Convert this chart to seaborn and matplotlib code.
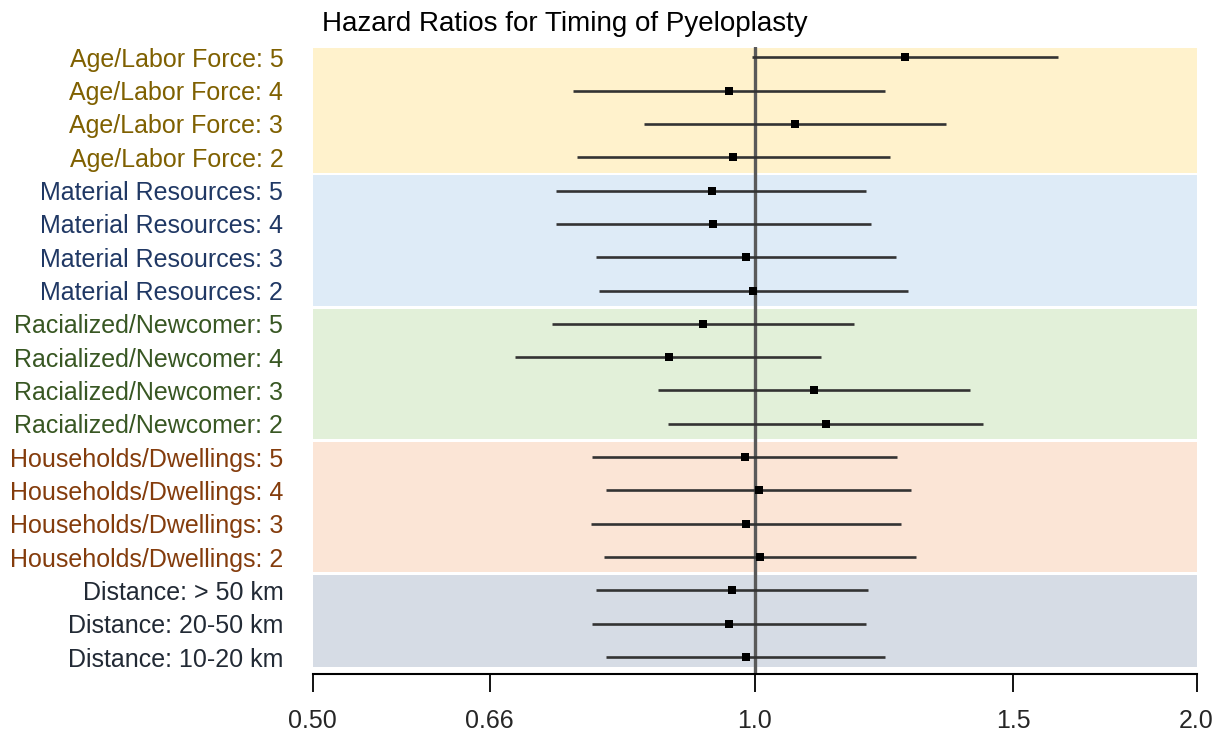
import numpy as np
import pandas as pd
import matplotlib
matplotlib.use('Agg')
import matplotlib.pyplot as plt
import seaborn as sns

# ── data ──
labels = ['Age/Labor Force: 5', 'Age/Labor Force: 4', 'Age/Labor Force: 3', 'Age/Labor Force: 2',
          'Material Resources: 5', 'Material Resources: 4', 'Material Resources: 3', 'Material Resources: 2',
          'Racialized/Newcomer: 5', 'Racialized/Newcomer: 4', 'Racialized/Newcomer: 3', 'Racialized/Newcomer: 2',
          'Households/Dwellings: 5', 'Households/Dwellings: 4', 'Households/Dwellings: 3', 'Households/Dwellings: 2',
          'Distance: > 50 km', 'Distance: 20-50 km', 'Distance: 10-20 km']
hr = [1.266, 0.961, 1.066, 0.967,
      0.935, 0.937, 0.987, 0.998,
      0.923, 0.874, 1.098, 1.118,
      0.985, 1.007, 0.987, 1.009,
      0.966, 0.961, 0.986]
ci_low = [0.996, 0.752, 0.841, 0.757,
          0.733, 0.732, 0.780, 0.784,
          0.728, 0.687, 0.860, 0.873,
          0.775, 0.792, 0.774, 0.790,
          0.780, 0.775, 0.792]
ci_high = [1.610, 1.228, 1.350, 1.237,
           1.192, 1.200, 1.249, 1.272,
           1.169, 1.110, 1.402, 1.431,
           1.251, 1.278, 1.259, 1.288,
           1.195, 1.192, 1.228]
groups = ['Age/Labor Force', 'Material Resources', 'Racialized/Newcomer',
          'Households/Dwellings', 'Distance']
group_sizes = [4, 4, 4, 4, 3]
band_colors = ['#FFF2CC', '#DEEBF7', '#E2F0D9', '#FBE5D6', '#D6DCE5']
text_colors = ['#7F6000', '#203864', '#385723', '#843C0C', '#222A35']
xticks = [0.50, 0.66, 1.0, 1.5, 2.0]
xtick_labels = ['0.50', '0.66', '1.0', '1.5', '2.0']

df = pd.DataFrame({'label': labels, 'hr': hr, 'lo': ci_low, 'hi': ci_high})
df['row'] = np.arange(len(df))

sns.set_theme(style='white')
plt.rcParams['font.family'] = ['Liberation Sans', 'DejaVu Sans']

fig = plt.figure(figsize=(12.2, 7.38), dpi=100)
ax = fig.add_axes([312.5 / 1220, 1 - 674 / 738, 884 / 1220, (674 - 46.7) / 738])

# coloured group bands
start = 0
for size, col in zip(group_sizes, band_colors):
    top = start - 0.5 if start > 0 else -0.32
    bot = start + size - 0.5 if start + size < len(df) else len(df) - 1 + 0.33
    ax.axhspan(top + 0.04, bot - 0.04, color=col, zorder=0, lw=0)
    start += size

ax.axvline(1.0, color='#5a5a5a', lw=2.4, zorder=1)
ax.hlines(df['row'], df['lo'], df['hi'], color='#333333', lw=1.9, zorder=2)
sns.scatterplot(data=df, x='hr', y='row', marker='s', color='black', s=34,
                linewidth=0, zorder=3, ax=ax)

ax.set_xscale('log')
ax.set_xlim(0.5, 2.0)
ax.set_ylim(len(df) - 1 + 0.51, -0.32)
ax.set_xticks(xticks)
ax.set_xticklabels(xtick_labels, fontsize=18)
ax.minorticks_off()
ax.set_yticks(df['row'])
ax.set_yticklabels(df['label'], fontsize=18)
colors_per_row = [c for c, n in zip(text_colors, group_sizes) for _ in range(n)]
for t, c in zip(ax.get_yticklabels(), colors_per_row):
    t.set_color(c)
ax.tick_params(axis='y', left=False, length=0, pad=21)
ax.tick_params(axis='x', bottom=True, direction='out', length=13, width=1.3,
               color='black', pad=12)
ax.set_xlabel('')
ax.set_ylabel('')
for s in ['top', 'left', 'right']:
    ax.spines[s].set_visible(False)
ax.spines['bottom'].set_color('black')
ax.spines['bottom'].set_linewidth(1.5)

fig.text(322 / 1220, 1 - 24 / 738, 'Hazard Ratios for Timing of Pyeloplasty',
         fontsize=20, ha='left', va='center', color='black')

fig.savefig('out.png', dpi=100)
